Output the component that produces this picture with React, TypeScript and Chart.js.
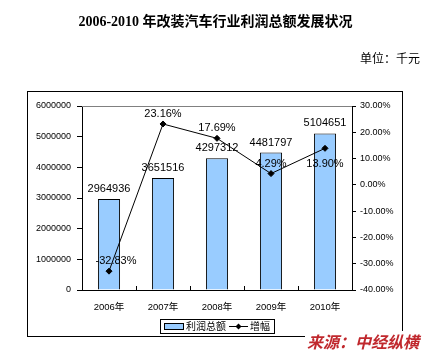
import React, { useEffect, useRef } from "react";
import { Chart, registerables } from "chart.js";

Chart.register(...registerables);

const categories = ["2006年", "2007年", "2008年", "2009年", "2010年"];
const profitValues = [2964936, 3651516, 4297312, 4481797, 5104651];
const growthValues = [-32.83, 23.16, 17.69, 4.29, 13.9];
const growthLabelSide = ["above", "above", "above", "above", "below"];
const seriesNames = ["利润总额", "增幅"];
const titleText = "2006-2010 年改装汽车行业利润总额发展状况";
const unitText = "单位：千元";
const sourceText = "来源：中经纵横";

const SANS = "'Liberation Sans', Arial, 'Noto Sans CJK SC', sans-serif";

const decorPlugin = {
  id: "decor",
  beforeDraw(chart: any) {
    const ctx = chart.ctx;
    ctx.save();
    ctx.fillStyle = "#fff";
    ctx.fillRect(0, 0, chart.width, chart.height);
    ctx.strokeStyle = "#000";
    ctx.lineWidth = 1;
    ctx.strokeRect(27.5, 91.5, 375, 245);
    ctx.restore();
  },
  afterDraw(chart: any) {
    const ctx = chart.ctx;
    const ca = chart.chartArea;
    ctx.save();
    ctx.strokeStyle = "#808080";
    ctx.lineWidth = 1;
    ctx.beginPath();
    ctx.moveTo(ca.left, Math.round(ca.top) + 0.5);
    ctx.lineTo(ca.right, Math.round(ca.top) + 0.5);
    ctx.stroke();
    const xs = chart.scales.x;
    ctx.strokeStyle = "#000";
    for (let i = 1; i < categories.length; i++) {
      const x = Math.round((xs.getPixelForValue(i - 1) + xs.getPixelForValue(i)) / 2) + 0.5;
      ctx.beginPath();
      ctx.moveTo(x, ca.bottom);
      ctx.lineTo(x, ca.bottom - 4);
      ctx.stroke();
    }
    const lx = 160, ly = 319, lw = 114, lh = 14;
    ctx.strokeStyle = "#000";
    ctx.strokeRect(lx + 0.5, ly + 0.5, lw, lh);
    ctx.fillStyle = "#99CCFF";
    ctx.fillRect(164.5, 323.5, 19, 6);
    ctx.strokeRect(164.5, 323.5, 19, 6);
    ctx.fillStyle = "#000";
    ctx.font = "10px " + SANS;
    ctx.textBaseline = "middle";
    ctx.textAlign = "left";
    ctx.fillText(seriesNames[0], 186, 327);
    ctx.beginPath();
    ctx.moveTo(229, 326.5);
    ctx.lineTo(248, 326.5);
    ctx.stroke();
    ctx.beginPath();
    ctx.moveTo(238.5, 323.5);
    ctx.lineTo(241.5, 326.5);
    ctx.lineTo(238.5, 329.5);
    ctx.lineTo(235.5, 326.5);
    ctx.closePath();
    ctx.fill();
    ctx.fillText(seriesNames[1], 250, 327);
    ctx.restore();
  },
  afterDatasetsDraw(chart: any) {
    const ctx = chart.ctx;
    ctx.save();
    ctx.fillStyle = "#000";
    ctx.font = "11px " + SANS;
    ctx.textAlign = "center";
    ctx.textBaseline = "middle";
    const barMeta = chart.getDatasetMeta(0);
    barMeta.data.forEach((el: any, i: number) => {
      ctx.fillText(String(profitValues[i]), el.x, el.y - 10);
    });
    const lineMeta = chart.getDatasetMeta(1);
    lineMeta.data.forEach((el: any, i: number) => {
      const dy = growthLabelSide[i] === "below" ? 16 : -10;
      const dx = i === 0 ? 7 : 0;
      ctx.fillText(growthValues[i].toFixed(2) + "%", el.x + dx, el.y + dy);
    });
    ctx.restore();
  },
};

export default function App() {
  const ref = useRef<HTMLCanvasElement>(null);
  useEffect(() => {
    if (!ref.current) return;
    const chart = new Chart(ref.current, {
      data: {
        labels: categories,
        datasets: [
          {
            type: "bar",
            label: seriesNames[0],
            data: profitValues,
            backgroundColor: "#99CCFF",
            borderColor: "#000",
            borderWidth: 1,
            barPercentage: 0.41,
            categoryPercentage: 1,
            yAxisID: "y",
            order: 2,
          },
          {
            type: "line",
            label: seriesNames[1],
            data: growthValues,
            borderColor: "#000",
            borderWidth: 1,
            backgroundColor: "#000",
            pointStyle: "rectRot",
            pointRadius: 3,
            pointBackgroundColor: "#000",
            pointBorderColor: "#000",
            tension: 0,
            yAxisID: "y1",
            order: 1,
          },
        ],
      } as any,
      options: {
        animation: false,
        responsive: false,
        maintainAspectRatio: false,
        layout: { padding: { top: 106, left: 0, right: 0, bottom: 0 } },
        plugins: {
          legend: { display: false },
          title: { display: false },
          tooltip: { enabled: false },
        },
        scales: {
          x: {
            offset: true,
            grid: { display: false },
            border: { color: "#000", width: 1 },
            ticks: {
              color: "#000",
              font: { size: 9.5, family: SANS },
              padding: 4,
              maxRotation: 0,
            },
            afterFit(scale: any) {
              scale.height = 63;
            },
          },
          y: {
            position: "left",
            min: 0,
            max: 6000000,
            grid: { drawOnChartArea: false, tickLength: 5, color: "#000" },
            border: { color: "#000", width: 1 },
            ticks: {
              stepSize: 1000000,
              color: "#000",
              font: { size: 9, family: SANS },
              padding: 6,
              callback: (v: any) => String(Math.round(Number(v))),
            },
            afterFit(scale: any) {
              scale.width = 82;
            },
          },
          y1: {
            position: "right",
            min: -40,
            max: 30,
            grid: { drawOnChartArea: false, tickLength: 4, color: "#000" },
            border: { color: "#000", width: 1 },
            ticks: {
              stepSize: 10,
              color: "#000",
              font: { size: 9, family: SANS },
              padding: 4,
              callback: (v: any) => Number(v).toFixed(2) + "%",
            },
            afterFit(scale: any) {
              scale.width = 79;
            },
          },
        },
      } as any,
      plugins: [decorPlugin],
    });
    return () => chart.destroy();
  }, []);

  return (
    <div style={{ position: "absolute", left: 0, top: 0, width: 431, height: 353, background: "#fff", overflow: "hidden" }}>
      <canvas ref={ref} width={431} height={353} style={{ position: "absolute", left: 0, top: 0, width: 431, height: 353 }} />
      <div
        style={{
          position: "absolute",
          left: 0,
          width: 431,
          top: 13,
          textAlign: "center",
          fontFamily: "'Liberation Serif', 'Noto Sans CJK SC', serif",
          fontWeight: "bold",
          fontSize: 14,
          lineHeight: "18px",
          color: "#000",
        }}
      >
        {titleText}
      </div>
      <div
        style={{
          position: "absolute",
          left: 360,
          top: 50,
          fontFamily: "'Noto Sans CJK SC', serif",
          fontSize: 12,
          lineHeight: "16px",
          color: "#000",
          whiteSpace: "nowrap",
        }}
      >
        {unitText}
      </div>
      <div
        style={{
          position: "absolute",
          left: 305,
          top: 331,
          paddingLeft: 2,
          background: "#fff",
          fontFamily: "'Noto Sans CJK SC', sans-serif",
          fontWeight: "bold",
          fontStyle: "italic",
          fontSize: 16,
          lineHeight: "20px",
          color: "#C0282D",
          whiteSpace: "nowrap",
        }}
      >
        {sourceText}
      </div>
    </div>
  );
}
